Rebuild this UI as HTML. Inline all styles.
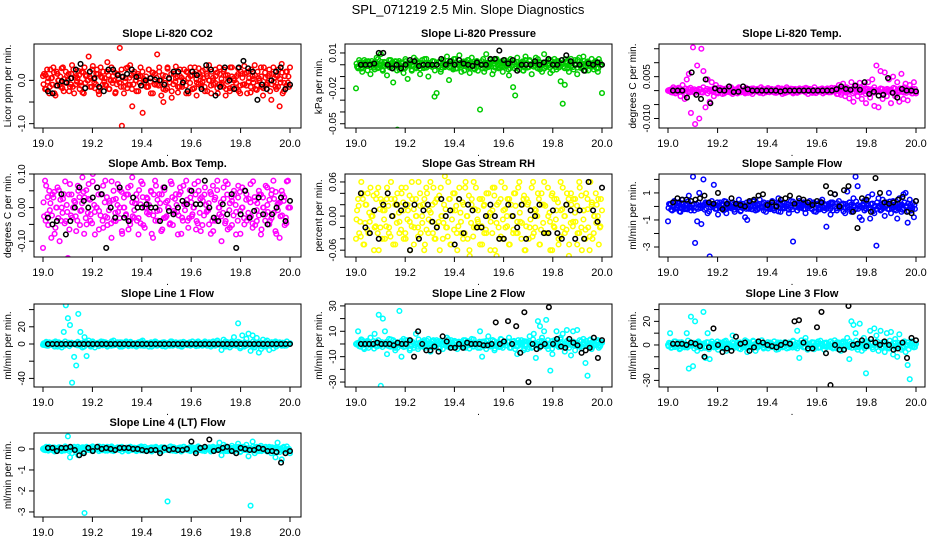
<!DOCTYPE html>
<html><head><meta charset="utf-8"><style>
body{margin:0;background:#fff}
svg{display:block;font-family:"Liberation Sans",sans-serif}
</style></head><body>
<svg id="chart" width="936" height="540" viewBox="0 0 936 540">
<rect width="936" height="540" fill="#fff"/>
<text x="468" y="14" text-anchor="middle" font-size="13">SPL_071219  2.5 Min. Slope Diagnostics</text>
</svg>
<script>
const titles=["Slope Li-820 CO2","Slope Li-820 Pressure","Slope Li-820 Temp.","Slope Amb. Box Temp.","Slope Gas Stream RH","Slope Sample Flow","Slope Line 1 Flow","Slope Line 2 Flow","Slope Line 3 Flow","Slope Line 4 (LT) Flow"];
const yTitles=["Licor ppm per min.","kPa per min.","degrees C per min.","degrees C per min.","percent per min.","ml/min per min.","ml/min per min.","ml/min per min.","ml/min per min.","ml/min per min."];
const colors=["#ff0000","#00cc00","#ff00ff","#ff00ff","#ffff00","#0000ff","#00ffff","#00ffff","#00ffff","#00ffff"];
const xTicks=[19.0,19.2,19.4,19.6,19.8,20.0];
const yRanges=[[-1.1,0.84],[-0.0536,0.0176],[-0.0134,0.0167],[-0.147,0.10],[-0.072,0.074],[-3.74,2.4],[-50,46.5],[-33.9,31.5],[-35.6,34.7],[-3.24,0.76]];
const yTickVals=[[-1,-0.5,0],[0.01,0,-0.01,-0.02,-0.03,-0.04,-0.05],[0.015,0.01,0.005,0,-0.005,-0.01],[0.1,0.05,0,-0.05,-0.1,-0.15],[0.06,0.04,0.02,0,-0.02,-0.04,-0.06],[2,1,0,-1,-2,-3],[40,20,0,-20,-40],[30,20,10,0,-10,-20,-30],[30,20,10,0,-10,-20,-30],[0,-1,-2,-3]];
const yTickLabels=[["-1.0","","0.0"],["0.01","","","-0.02","","","-0.05"],["","","0.005","","","-0.010"],["0.10","","0.00","","-0.10",""],["0.06","","","0.00","","","-0.06"],["","1","","-1","","-3"],["","20","0","","-40"],["30","","10","","-10","","-30"],["","20","","0","","","-30"],["0","-1","-2","-3"]];
const series=[
[.1,-.2,.25,-.3,.05,.3,-.35,.15,-.1,.28,-.25,.2,.02,-.15,.35,-.3,.1,.22,-.05,-.28,.3,.12,.55,.05,.33,-.18,.25,-.32,.08,.2,-.1,.42,-.2,.3,.0,-.27,.15,.75,-1.05,-.3,.28,-.1,.35,-.6,.2,-.25,.1,.3,-.75,.0,-.15,.25,-.3,.18,-.1,.6,.3,-.35,-.5,-.22,.27,-.05,-.4,.2,.32,-.28,.1,-.15,.25,-.3,.05,.3,-.2,.15,-.35,.28,-.08,.22,-.25,.1,.35,-.3,.0,.25,-.18,.3,-.1,.2,-.35,.12,-.25,.3,.05,-.2,.28,-.3,.15,.33,-.12,.2,-.28,.1,.35,-.22,.05,.3,-.35,.18,-.1,.25,-.45,.3,-.15,.1,-.6,.38,-.25,.2,-.05,.3],
[-.02,-.003,.002,-.006,.004,-.001,.003,-.008,.001,-.004,.006,-.002,.009,-.005,.002,-.009,.004,-.001,-.015,.003,-.055,-.004,.002,-.007,.003,-.012,.001,-.005,.006,-.003,.002,-.008,.004,-.002,.005,-.01,-.001,.003,-.027,-.024,.002,-.006,.004,-.002,.007,-.013,.001,-.004,.005,-.003,.008,-.006,.002,-.001,.004,-.007,.006,-.003,.001,-.005,-.038,.003,-.006,.009,-.002,.004,-.008,.001,.005,-.003,.002,-.006,.004,-.001,-.009,.003,-.019,-.026,.006,-.004,.002,-.005,.007,-.002,.004,-.008,.001,.006,-.003,.002,-.006,.009,-.002,.004,-.007,.001,.005,-.004,.003,-.014,-.033,-.017,.003,-.006,.005,-.002,.004,-.008,.006,-.003,.007,-.005,.002,-.001,.005,-.004,.003,-.006,.002,-.024],
[0,0,.0005,-.0005,0,.001,-.002,.002,-.003,.004,.006,-.008,.0155,-.012,.009,-.01,.015,.007,-.006,.004,-.004,.003,-.002,.002,-.001,.001,.0005,-.001,.0008,-.0005,.001,-.0012,.0004,-.0008,.0012,-.0006,.0003,-.001,.0006,.0002,-.0005,.0008,-.0003,.0006,-.0008,.0002,.0005,-.0006,.0009,-.0002,.0004,-.0007,.0001,.0006,-.0004,.0003,-.0009,.0005,-.0001,.0007,-.0006,.0003,-.0008,.0005,-.0002,.0007,-.0004,.0001,.0006,-.0007,.0002,-.0009,.0004,-.0003,.0008,-.0005,.0002,-.0006,.0004,-.0001,.0009,-.0012,.002,-.0015,.0025,-.002,.001,-.0028,.003,-.004,.0015,-.002,.0028,-.003,.0018,-.0045,.003,-.0025,.004,-.0055,.009,-.006,.007,-.003,.0065,-.002,.004,-.0045,.005,-.002,.003,-.004,.006,-.003,.0025,-.0035,.002,-.001,.003,-.001],
[-.12,.08,-.02,.05,-.09,.03,-.06,.06,-.1,.0,.04,-.04,-.15,.07,-.03,.02,-.07,.05,-.01,.09,.03,-.05,.07,-.02,.1,-.08,.06,-.01,.04,-.06,.08,-.03,.02,-.09,.05,-.04,.07,.0,-.07,.03,-.02,.06,-.05,.09,-.03,.04,-.08,.01,.07,-.06,.03,-.02,.05,-.09,.08,-.01,.04,-.07,.06,-.03,.02,-.05,.07,-.01,.04,-.08,.06,-.03,.01,.08,-.06,.03,-.02,.07,-.04,.05,-.07,.02,.06,-.01,-.05,.04,-.07,.03,.08,-.02,-.1,.06,-.04,.07,-.06,.02,.05,-.08,.03,-.01,.06,-.05,.04,-.03,.07,-.06,.02,-.04,.05,-.08,.03,-.02,.06,-.05,.04,.08,-.07,.01,-.09,.05,.02,-.03,.08,.0],
[-.04,.03,-.01,.04,-.05,.02,-.03,.05,.0,-.02,.04,-.06,.03,.01,-.04,.05,-.02,.03,-.05,.02,.04,-.03,.05,.01,-.04,.02,-.01,.06,-.05,.03,-.02,.04,.0,-.06,.05,-.03,.06,.02,-.04,.03,-.01,.05,-.04,.07,-.02,.03,-.05,.04,.01,-.06,.05,-.03,.02,.06,-.04,-.07,.03,-.02,.05,-.01,.03,-.05,.02,-.03,.04,-.06,.01,.05,-.07,-.02,.03,-.04,.05,.0,-.05,.02,-.03,.04,-.01,.06,-.04,.03,-.06,.02,-.02,.05,-.03,.01,.04,-.05,.02,.06,-.03,.0,-.06,.04,-.02,.03,-.05,.01,.05,-.03,.02,-.07,.04,-.01,.03,-.05,.06,-.02,.01,-.04,.03,-.06,.02,-.03,.04,.0,-.02,.01],
[-1.1,.2,-.3,.4,-.1,.3,-.4,.5,-.2,.1,.8,-.3,2.2,-2.7,-1.1,1.0,-1.3,2.0,.3,-.5,-3.7,.4,1.6,.1,-.6,.3,-.2,.4,-.5,.2,-.1,.3,-.4,.1,.5,-.3,.2,-.8,-1.0,.3,-.2,.4,-.3,.1,.5,-.1,.3,-.4,.2,-.2,.4,-.3,.1,.6,-.4,.3,-.1,.2,-.5,.4,-2.6,.2,-.3,.4,-.1,.3,-.5,.1,.4,-.2,.3,-.4,.2,-.1,.5,-.3,-1.5,.2,-.6,.3,.9,-.3,.4,-.1,.2,-.5,1.1,.3,-.4,.6,2.2,1.5,-.8,-1.0,.4,-.2,.7,-.9,.9,-.5,-2.9,.6,-.3,.5,-.7,.3,1.0,-.5,.4,-.2,-.9,.6,-.4,.9,1.0,-1.2,.5,-.3,-.8,.4],
[-1,1,-2,2,0,-1,3,-3,1,-4,14,45,30,22,-45,-15,-25,35,14,-4,8,-14,4,-3,2,-4,1,-2,3,-1,2,-3,1,-2,4,-1,2,-3,1,-2,3,-1,2,-2,1,-3,2,-1,4,-2,1,-3,2,-1,3,-2,1,-1,2,-3,1,-2,3,-1,2,-2,1,-3,2,-1,1,-2,3,-1,2,-2,1,-1,3,-2,2,-1,3,-2,4,-1,-7,5,-3,2,-4,3,8,-2,24,-5,10,-3,6,12,-8,10,-4,7,-10,-6,5,-3,4,-7,2,-5,3,-1,2,-2,1,-1,0,1],
[0,10,-2,3,-4,2,-3,5,-1,8,-2,23,-33,20,10,-8,4,-2,3,-5,-3,26,-10,4,-2,3,-5,2,-3,8,-4,1,-2,3,-1,4,-6,2,-1,3,-3,2,-4,1,5,-2,3,-1,2,-4,1,-2,3,-3,2,-1,4,-2,1,-3,10,-10,2,-4,6,-2,3,-5,1,-2,4,-3,2,-1,5,-3,2,-4,-8,1,3,-5,2,-4,6,-3,8,-11,18,14,5,10,19,-4,-21,-8,3,10,-2,5,8,-6,11,2,-9,10,-5,11,-2,-2,4,-15,-25,3,-4,2,-1,3,-2,1],
[0,10,-2,3,-1,2,-3,1,-2,10,-20,24,-18,20,-5,2,-3,28,-11,10,-12,3,-2,1,-4,2,-1,3,-5,1,-2,8,-1,2,-3,1,-2,4,-6,2,-1,3,-5,2,-1,4,-2,1,-3,2,-1,3,-4,1,2,-2,1,-3,2,-1,3,-2,12,-11,4,-2,6,-4,1,-3,2,-1,3,-2,1,-4,2,-1,3,-2,4,-3,2,-5,3,-1,6,-12,20,17,10,-4,18,-5,6,-24,3,12,-2,14,8,-5,12,2,-6,10,-3,11,-8,5,-10,9,-4,2,-6,-17,-29,3,-2,1],
[0,.05,-.05,.1,0,-.08,.05,-.03,.08,-.1,.02,-.05,.6,-.4,-.2,.1,-.15,-.3,.05,.08,-3.05,.1,-.05,.08,-.1,.05,-.02,.12,-.06,.03,-.08,.1,-.04,.06,-.1,.02,.08,-.05,.1,-.03,.05,-.08,.1,-.03,.06,-.1,.02,.08,-.05,.1,-.06,.03,-.09,.07,-.02,.05,-.1,.08,-.04,.02,-2.5,.1,-.05,.08,-.1,.03,.06,-.08,.1,-.02,.05,-.1,.08,-.04,.02,.09,-.06,.03,-.1,.05,.08,-.05,.1,-.03,.06,.3,-.3,.2,-.1,.05,-.08,.15,-.12,.1,.25,-.15,.1,-.05,.2,-.35,-2.7,.35,-.2,.1,-.1,.15,-.05,.08,-.12,.1,-.2,.05,-.4,.3,-.15,-.5,.1,-.05,-.1,-.2]];
const bandA=[3,-4,1,5,-2,-6,4,0,-3,6,-1,2,-5,3,5,-2,1,-4,4,-6,2,0,-3,5,-1,3,-5,6,-2,1,4,-4,0,2,-6,3,-1,5,-3,1,6,-2,-4,3,0,-5,2,4,-1,-3,5,1,-6,3,-2,4,0,-4,2,6,-1,-5,3,1,-3,5,-2,0,4,-6,2,-4,6,-1,3,-3,1,5,-5,0,4,-2,2,-6,3,-1,5,-4,1,6,-3,0,2,-5,4,-2,3,-6,1,5,-1,-4,4,0,-3,6,-2,2,-5,3,1,-4,5,-1,-6,2,4,-3];
const bandB=[-2,5,-4,1,3,-6,0,4,-3,2,6,-1,-5,3,0,-2,5,-4,1,-6,4,2,-3,6,-1,0,-5,3,5,-2,-4,1,6,-3,2,-1,4,-6,0,3,-5,5,-2,1,-3,4,6,-4,0,2,-1,-6,3,5,-3,1,-5,4,-2,0,6,-4,2,-1,3,-6,5,1,-3,4,-2,0,-5,6,2,-4,3,-1,1,-6,5,-3,4,0,-2,2,6,-5,1,-4,3,-1,5,-6,0,4,-3,2,-2,6,-4,1,3,-5,0,5,-1,-3,4,2,-6,1,-2,3,-4,6,0];
const bandC=[1,-3,6,-5,2,4,-1,0,-6,3,5,-2,-4,1,3,-3,6,0,-5,2,-1,4,-4,5,1,-6,3,-2,0,6,-3,2,-5,4,1,-1,5,-4,3,-6,0,2,-2,6,-5,1,4,-3,3,-1,-4,5,0,-6,2,6,-2,1,-5,3,-3,4,0,-1,5,-6,2,-4,6,1,-2,3,-5,0,4,-3,5,-1,2,-6,3,-4,1,6,-2,0,-5,4,2,-3,5,-1,-6,3,1,-4,6,-2,0,4,-5,2,3,-1,-3,5,-6,1,4,-2,6,-4,0,2,-5,3];
const bandOf=[bandA,bandB,bandC,bandB,bandC,bandA,bandB,bandC,bandA,bandB];
const bandUnit=[0.05,0.0008,0.0002,0.013,0.01,0.06,0.5,0.6,0.6,0.02];
const blackSeries=[
[-.25,-.3,-.12,-.02,-.05,.05,.25,.38,-.18,.2,.05,-.15,-.25,.25,.25,.12,.08,.15,.25,.08,-.12,.0,.05,.02,.0,-.1,.05,.2,.2,-.05,-.25,.2,.12,-.2,.35,.25,-.35,-.15,.3,.0,-.2,.3,.45,.28,.2,-.45,-.1,-.2,.0,.2,.3,-.2,-.1],
[.0,.0,.0,.001,.01,.01,.0,-.003,.0,-.003,.0,.004,.003,-.001,.0,.0,.0,.0,.005,.0,.003,.0,.004,.001,.0,-.001,.002,.0,.0,.005,.005,.012,.004,.001,.004,-.005,.0,.0,.0,.003,.0,.002,.005,.0,.0,.004,.008,.003,.0,.0,-.005,.001,.0,.002,.0],
[0,0,0,-.0025,.0065,-.0015,-.003,.004,-.0045,.0008,.0001,0,.0015,-.0005,-.0004,.0015,.0005,0,0,0,0,0,0,-.0003,0,0,0,0,0,0,0,0,0,0,0,.0005,.0015,.0006,.0003,.0018,.0003,.003,-.0012,-.0004,-.0018,-.0015,.0045,-.0008,-.0025,.0006,0,0,-.0003],
[-.03,-.05,-.04,.04,-.08,-.04,.0,.06,.02,.0,.03,.06,.04,-.12,.0,-.03,.06,-.03,-.04,.03,.0,.0,.01,.0,.0,-.04,.06,-.01,-.02,.0,.02,.01,.05,.01,.01,.08,.0,-.03,-.04,.01,-.02,.04,-.12,-.02,.05,-.03,-.01,.03,-.02,-.05,-.02,.0,.03,-.04,.02],
[.04,-.02,-.03,.01,-.04,.02,.04,.0,.02,.01,.02,-.06,.02,-.04,.01,.02,-.01,-.02,.03,.0,.01,-.05,.03,-.03,.02,.01,-.02,-.02,.0,.02,.0,-.04,-.04,.02,.0,-.02,.02,-.04,.01,.0,.02,-.03,-.03,.01,-.03,-.04,.02,.01,-.04,.01,-.04,.06,.01,-.01,.05],
[.3,.6,.5,.5,.4,.5,.6,.8,.3,.2,1.0,-.2,.2,.6,.2,.1,.0,.4,.5,.8,.9,.1,.3,.0,.5,.6,.8,.2,.6,.5,.3,.1,.4,.3,1.5,1.0,.9,.0,1.2,1.5,-.4,-1.6,.6,.5,-.4,2.1,1.0,.3,.2,.3,.5,.7,-.4,-.5,.4],
[0,0,0,0,0,0,0,0,0,0,0,0,0,0,0,0,0,0,0,0,0,0,0,0,0,0,0,0,0,0,0,0,0,0,0,0,0,0,0,0,0,0,0,0,0,0,0,0,0,0,0,0,0,0,0],
[0,0,0,0,1,0,0,0,-1,1,0,0,3,-10,10,0,-5,-5,-2,-6,6,2,-3,-3,0,-3,1,0,0,0,-1,-1,0,17,0,2,18,0,14,-7,25,-30,0,-4,-2,0,29,0,4,-2,-3,4,1,-1,-7,-5,-3,5,-11,3],
[1,1,1,0,2,1,-1,-10,-2,14,0,-6,-3,-5,7,1,2,-5,-2,3,2,0,-1,-2,0,2,1,20,21,2,-3,-3,15,28,-7,-34,0,-4,-4,33,0,1,4,-1,5,2,0,3,0,-4,-3,2,-11,6,4],
[.05,.05,-.1,.05,.05,.1,-.05,-.3,-.2,.05,-.1,.1,0,.05,0,-.05,.05,.05,.05,0,0,-.05,-.1,-.05,-.05,-.2,.05,-.05,0,-.05,-.05,0,.35,-.2,.05,.1,.45,-.1,-.05,.05,.1,-.1,-.2,.05,0,-.05,-.05,.05,0,-.1,-.1,-.15,-.65,-.2,-.1]];

const NS="http://www.w3.org/2000/svg";
const svg=document.getElementById('chart');
const colBox=[[34,301,43,290],[345,612,356,602],[659,925,668,916]];
const rowBox=[[44,128],[174,257],[304,387],[433,517]];
function mk(tag,attrs,parent){const e=document.createElementNS(NS,tag);for(const k in attrs)e.setAttribute(k,attrs[k]);(parent||svg).appendChild(e);return e;}
titles.forEach((t,p)=>{
  const c=colBox[p%3], r=rowBox[Math.floor(p/3)];
  const w=c[1]-c[0], h=r[1]-r[0];
  const g=mk('g',{});
  
  
  const xs=v=>c[2]+(v-19)*(c[3]-c[2]);
  const [y0,y1]=yRanges[p];
  const ys=v=>r[1]-(v-y0)/(y1-y0)*h;
  const cx=(c[0]+c[1])/2, cy=(r[0]+r[1])/2;
  const tt=mk('text',{x:cx,y:r[0]-7,'text-anchor':'middle','font-size':11,'font-weight':'bold'},g);
  tt.textContent=t;
  
  
  const yt=mk('text',{x:0,y:0,'text-anchor':'middle','font-size':10,transform:`translate(${c[0]-23},${cy}) rotate(-90)`},g);
  yt.textContent=yTitles[p];
  
  
  const inner=mk('svg',{x:c[0],y:r[0],width:w,height:h,viewBox:`${c[0]} ${r[0]} ${w} ${h}`,overflow:'hidden'},g);
  const pts=mk('g',{fill:'none','stroke-width':1.5},inner);
  
  
  const dot=(x,y,col,name)=>{
    if(y<r[0]-3||y>r[1]+3) return;
    const el=mk('circle',{cx:x,cy:y,r:2.3,stroke:col},pts);
    
    
  };
  const bd=bandOf[p];
  bd.forEach((v,i)=>dot(xs(19+(i+0.5)/bd.length),ys(v*bandUnit[p]),colors[p],'point-core'));
  bd.forEach((v,i)=>dot(xs(19+(i+0.25)/bd.length),ys(-v*bandUnit[p]*0.6),colors[p],'point-core'));
  const s=series[p];
  s.forEach((v,i)=>dot(xs(19+i/(s.length-1)),ys(v),colors[p],'point'));
  const b=blackSeries[p];
  b.forEach((v,i)=>dot(xs(19.02+0.98*i/(b.length-1)),ys(v),'#000','point-black'));
  const box=mk('rect',{x:c[0],y:r[0],width:w,height:h,fill:'none',stroke:'#000','stroke-width':1},g);
  
  
  xTicks.forEach(v=>{
    mk('line',{x1:xs(v),x2:xs(v),y1:r[1],y2:r[1]+5,stroke:'#000'},g);
    const tl=mk('text',{x:xs(v),y:r[1]+19,'text-anchor':'middle','font-size':11},g);
    tl.textContent=v.toFixed(1);
    
    
  });
  const xt=mk('text',{x:cx,y:r[1]+28,'text-anchor':'middle','font-size':10},g);
  xt.textContent='.';
  
  
  yTickVals[p].forEach((v,i)=>{
    const y=ys(v);
    if(y<r[0]-0.5||y>r[1]+0.5) return;
    mk('line',{x1:c[0]-5,x2:c[0],y1:y,y2:y,stroke:'#000'},g);
    const lab=yTickLabels[p][i];
    if(lab){
      const tl=mk('text',{x:0,y:0,'text-anchor':'middle','font-size':10,transform:`translate(${c[0]-9},${y}) rotate(-90)`},g);
      tl.textContent=lab;
      
      
    }
  });
});
</script>
</body></html>
